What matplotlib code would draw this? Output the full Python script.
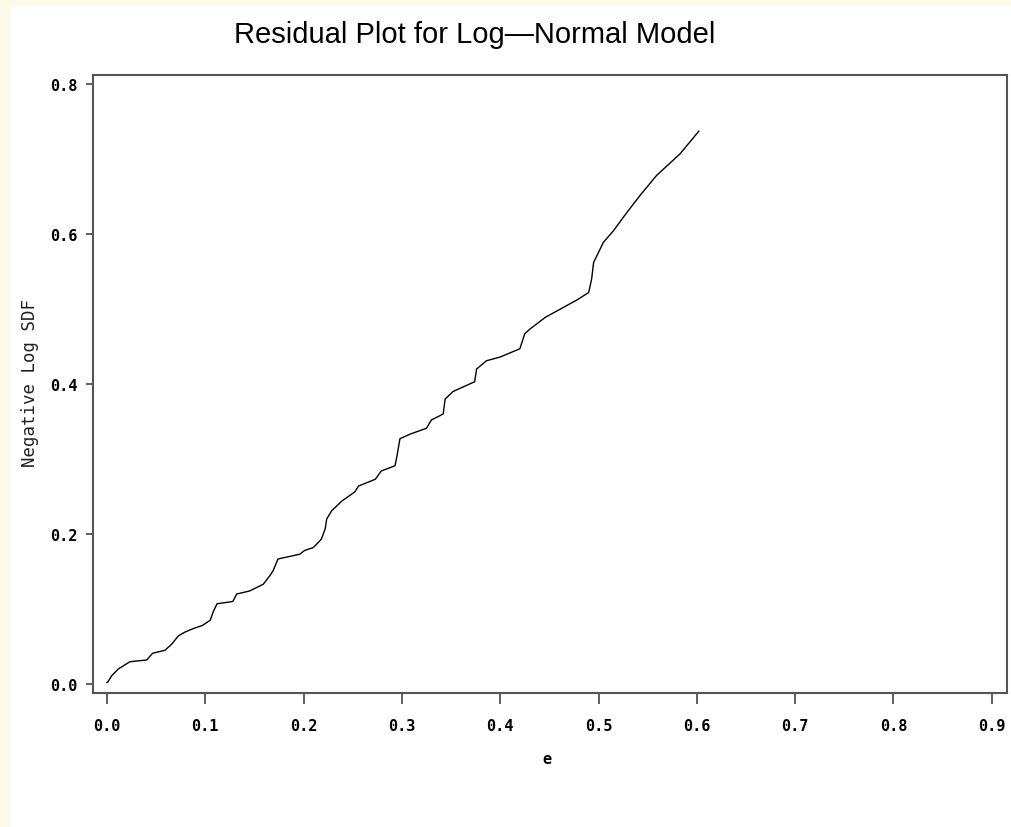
import matplotlib.pyplot as plt
from matplotlib.patches import Rectangle

# residuals e vs negative log survivor function
e_vals = [0.0, 0.0007, 0.0048, 0.0115, 0.0234, 0.0404, 0.0437, 0.0465, 0.059, 0.0658,
          0.0725, 0.079, 0.088, 0.097, 0.105, 0.108, 0.112, 0.128, 0.132, 0.145,
          0.159, 0.166, 0.169, 0.174, 0.196, 0.201, 0.210, 0.218, 0.222, 0.2235,
          0.2286, 0.239, 0.252, 0.256, 0.273, 0.279, 0.293, 0.295, 0.298, 0.308,
          0.325, 0.330, 0.342, 0.344, 0.352, 0.374, 0.376, 0.386, 0.400, 0.420,
          0.425, 0.430, 0.446, 0.478, 0.490, 0.493, 0.495, 0.505, 0.515, 0.529,
          0.542, 0.559, 0.583, 0.602]
neg_log_sdf = [0.002, 0.0023, 0.011, 0.020, 0.0297, 0.032, 0.037, 0.041, 0.045, 0.053,
               0.064, 0.069, 0.074, 0.078, 0.085, 0.096, 0.107, 0.110, 0.120, 0.124,
               0.133, 0.145, 0.151, 0.1667, 0.173, 0.178, 0.182, 0.193, 0.207, 0.220,
               0.231, 0.244, 0.256, 0.264, 0.273, 0.284, 0.291, 0.304, 0.327, 0.333,
               0.341, 0.352, 0.360, 0.380, 0.390, 0.403, 0.420, 0.431, 0.436, 0.447,
               0.467, 0.473, 0.489, 0.512, 0.522, 0.540, 0.562, 0.589, 0.604, 0.629,
               0.651, 0.678, 0.707, 0.737]

x_ticks = [0.0, 0.1, 0.2, 0.3, 0.4, 0.5, 0.6, 0.7, 0.8, 0.9]
y_ticks = [0.0, 0.2, 0.4, 0.6, 0.8]

W, H = 1011, 828
fig = plt.figure(figsize=(W / 100, H / 100), dpi=100)
fig.patch.set_facecolor('#fbfae6')
# white page area, yellow strip on left and top
fig.patches.append(Rectangle((10 / W, 0), 1, 1 - 7 / H, transform=fig.transFigure,
                             facecolor='white', edgecolor='none', zorder=-5))

ax = fig.add_axes([93 / W, 1 - 694 / H, (1007 - 93) / W, (694 - 76) / H])
ax.set_facecolor('none')
ax.plot(e_vals, neg_log_sdf, color='black', lw=1.0)

ax.set_xlim(-0.0142, 0.9155)
ax.set_ylim(-0.012, 0.812)
ax.set_xticks(x_ticks)
ax.set_yticks(y_ticks)
ax.set_xticklabels([f'{t:.1f}' for t in x_ticks], family='DejaVu Sans Mono',
                   fontweight='bold', fontsize=11)
ax.set_yticklabels([f'{t:.1f}' for t in y_ticks], family='DejaVu Sans Mono',
                   fontweight='bold', fontsize=11)
ax.tick_params(axis='x', length=8, width=1.2, color='#444444', pad=10)
ax.tick_params(axis='y', length=5, width=1.2, color='#444444', pad=6)
for s in ax.spines.values():
    s.set_color('#555555')
    s.set_linewidth(1.5)

fig.text(475 / W, 1 - 35 / H, 'Residual Plot for Log\u2014Normal Model',
         family='Liberation Sans', fontsize=21, ha='center', va='center')
fig.text(30 / W, 1 - 383 / H, 'Negative Log SDF', family='DejaVu Sans Mono',
         fontsize=12.5, rotation=90, ha='center', va='center', color='#222222')
fig.text(547 / W, 1 - 760 / H, 'e', family='DejaVu Sans Mono', fontweight='bold',
         fontsize=11, ha='center', va='center')

fig.savefig('out.png', dpi=100, facecolor=fig.get_facecolor())
